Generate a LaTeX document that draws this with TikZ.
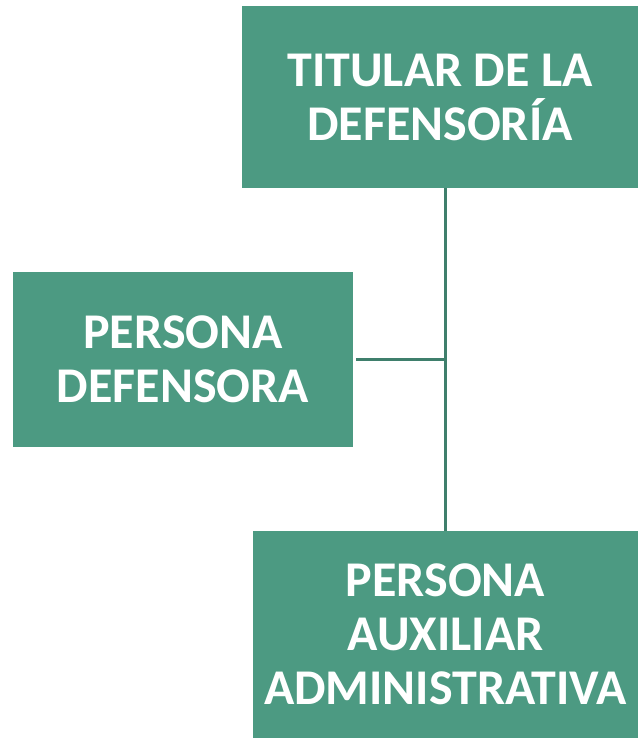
\documentclass[tikz,border=0pt]{standalone}
\usepackage{fontspec}
\setmainfont{Carlito}
\usepackage{xcolor}
\definecolor{verde}{HTML}{4C9A82}
\definecolor{verdeosc}{HTML}{3F7F6C}
\tikzset{
    cargo-box/.style = {fill=verde, draw=none, rectangle, inner sep=0pt, align=center, text=white, font=\bfseries\fontsize{50}{54}\selectfont},
    conector/.style = {draw=verdeosc, line width=2.6pt},
}

\begin{document}
\begin{tikzpicture}[x=1pt, y=-1pt]
\useasboundingbox (0,0) rectangle (638,738);
\node [cargo-box, minimum width=396pt, minimum height=182pt] (titular) at (440,97) {TITULAR DE LA\\DEFENSORÍA};
\node [cargo-box, minimum width=340pt, minimum height=175pt] (defensora) at (183,359.5) {PERSONA\\DEFENSORA};
\node [cargo-box, minimum width=385pt, minimum height=207pt] (auxiliar) at (445.5,634.5) {PERSONA\\AUXILIAR\\ADMINISTRATIVA};
\draw [conector] (auxiliar.north) -- (auxiliar.north |- titular.south);
\draw [conector] ([xshift=3pt]defensora.east) -- (defensora.east -| auxiliar.north);
\end{tikzpicture}
\end{document}
